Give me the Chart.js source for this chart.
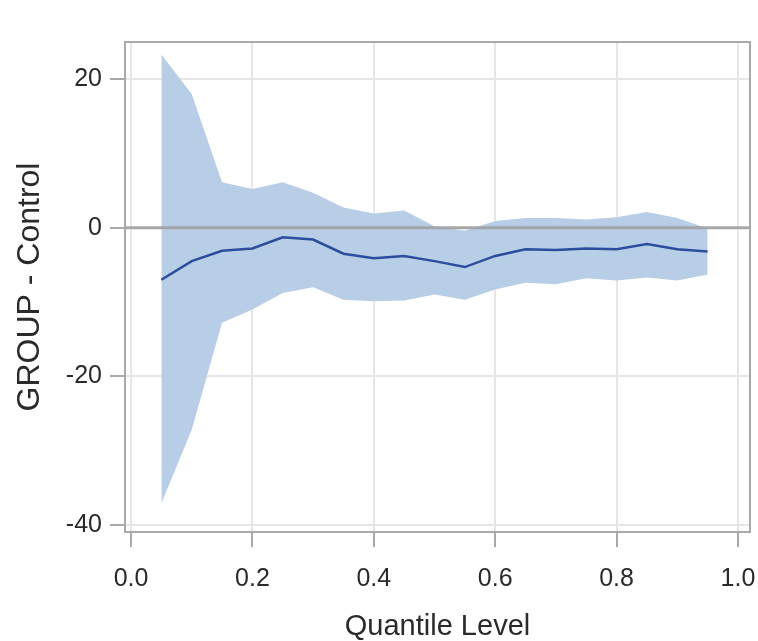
<!DOCTYPE html>
<html>
<head>
<meta charset="utf-8">
<script src="https://cdn.jsdelivr.net/npm/chart.js@4"></script>
<style>
  html, body { margin: 0; padding: 0; background: #fff; }
  canvas { display: block; }
</style>
</head>
<body>
<canvas id="quantileChart" width="758" height="641"></canvas>
<script>
// 분위수별 차이 추정치와 신뢰구간
const quantiles = [0.05, 0.10, 0.15, 0.20, 0.25, 0.30, 0.35, 0.40, 0.45, 0.50,
                   0.55, 0.60, 0.65, 0.70, 0.75, 0.80, 0.85, 0.90, 0.95];
const estimate = [-7.0, -4.5, -3.1, -2.8, -1.3, -1.6, -3.5, -4.1, -3.8, -4.5,
                  -5.3, -3.8, -2.9, -3.0, -2.8, -2.9, -2.2, -2.9, -3.2];
const upperCL = [23.3, 18.0, 6.1, 5.2, 6.1, 4.7, 2.7, 1.9, 2.3, 0.2,
                 -0.4, 0.9, 1.3, 1.3, 1.1, 1.4, 2.1, 1.3, -0.1];
const lowerCL = [-37.1, -27.2, -12.8, -11.0, -8.8, -8.0, -9.7, -9.9, -9.8, -9.0,
                 -9.7, -8.3, -7.4, -7.6, -6.8, -7.1, -6.7, -7.1, -6.3];

const xTicks = [0.0, 0.2, 0.4, 0.6, 0.8, 1.0];
const yTicks = [-40, -20, 0, 20];
const refValue = 0;

const toPoints = arr => quantiles.map((q, i) => ({ x: q, y: arr[i] }));

Chart.defaults.font.family = '"Liberation Sans", Arial, sans-serif';
Chart.defaults.color = '#2a2a2a';

// 0 기준선 (밴드 위, 추정선 아래)
const refLinePlugin = {
    id: 'refLine',
    beforeDatasetDraw(chart, args) {
        if (args.index !== 2) return;
        const { ctx, chartArea, scales } = chart;
        const y = scales.y.getPixelForValue(refValue);
        ctx.save();
        ctx.strokeStyle = 'rgba(160,160,160,0.9)';
        ctx.lineWidth = 3;
        ctx.beginPath();
        ctx.moveTo(chartArea.left, y);
        ctx.lineTo(chartArea.right, y);
        ctx.stroke();
        ctx.restore();
    }
};

// 플롯 테두리
const framePlugin = {
    id: 'frame',
    afterDatasetsDraw(chart) {
        const { ctx, chartArea: a } = chart;
        ctx.save();
        ctx.strokeStyle = '#a9a9a9';
        ctx.lineWidth = 2;
        ctx.strokeRect(a.left, a.top, a.right - a.left, a.bottom - a.top);
        ctx.restore();
    }
};

new Chart(document.getElementById('quantileChart'), {
    type: 'line',
    data: {
        datasets: [
            {
                label: 'Lower',
                data: toPoints(lowerCL),
                borderWidth: 0,
                pointRadius: 0,
                fill: false,
                order: 3
            },
            {
                label: 'Upper',
                data: toPoints(upperCL),
                borderWidth: 0,
                pointRadius: 0,
                backgroundColor: '#b8cee7',
                fill: '-1',
                order: 2
            },
            {
                label: 'Estimate',
                data: toPoints(estimate),
                borderColor: '#2b4d9e',
                borderWidth: 2.5,
                pointRadius: 0,
                fill: false,
                order: 0
            }
        ]
    },
    options: {
        responsive: false,
        animation: false,
        devicePixelRatio: 1,
        layout: { padding: { left: 0, top: 42, right: 8, bottom: 0 } },
        plugins: { legend: { display: false }, tooltip: { enabled: false } },
        scales: {
            x: {
                type: 'linear',
                min: -0.0099,
                max: 1.0198,
                afterBuildTicks: s => { s.ticks = xTicks.map(v => ({ value: v })); },
                afterFit: s => { s.height = 109; s.paddingLeft = 0; s.paddingRight = 0; },
                ticks: {
                    font: { size: 25 },
                    padding: 17,
                    maxRotation: 0,
                    autoSkip: false,
                    callback: v => v.toFixed(1)
                },
                grid: { color: '#e6e6e6', lineWidth: 2, tickLength: 15, tickColor: '#a9a9a9', tickWidth: 2 },
                border: { display: false },
                title: {
                    display: true,
                    text: 'Quantile Level',
                    font: { size: 29, lineHeight: 1 },
                    padding: { top: 0, bottom: 0 }
                }
            },
            y: {
                min: -40.94,
                max: 24.98,
                afterBuildTicks: s => { s.ticks = yTicks.map(v => ({ value: v })); },
                afterFit: s => { s.width = 125; },
                ticks: { font: { size: 25 }, padding: 8 },
                grid: { color: '#e6e6e6', lineWidth: 2, tickLength: 15, tickColor: '#a9a9a9', tickWidth: 2 },
                border: { display: false },
                title: {
                    display: true,
                    text: 'GROUP - Control',
                    font: { size: 32, lineHeight: 1 },
                    padding: { top: 14, bottom: 0 }
                }
            }
        }
    },
    plugins: [refLinePlugin, framePlugin]
});
</script>
</body>
</html>
